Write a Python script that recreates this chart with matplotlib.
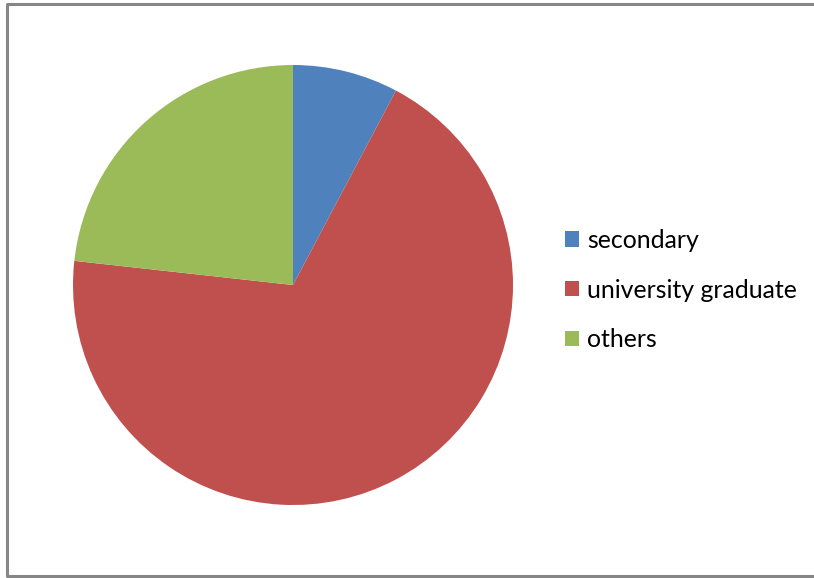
import matplotlib.pyplot as plt
from matplotlib.lines import Line2D

labels = ["secondary", "university graduate", "others"]
shares = [7.75, 69.0, 23.25]
colors = ["#4F81BD", "#C0504D", "#9BBB59"]

plt.rcParams['font.family'] = ['Lato', 'DejaVu Sans']

fig = plt.figure(figsize=(8.14, 5.78), dpi=100)

# frame round the chart area: top, left and bottom only (right side is cut off)
x0, x1 = 6.5 / 814, 1.0
y0, y1 = 1 - 575.5 / 578, 1 - 3.5 / 578
fig.add_artist(Line2D([x1, x0, x0, x1], [y1, y1, y0, y0],
                      transform=fig.transFigure, color="#868686", linewidth=2.2))

cx, cy, r = 293, 285, 220
ax = fig.add_axes([(cx - r) / 814, (578 - cy - r) / 578, 2 * r / 814, 2 * r / 578])
wedges, _ = ax.pie(shares, colors=colors, startangle=90, counterclock=False,
                   radius=1, wedgeprops=dict(linewidth=0))
ax.set_xlim(-1, 1)
ax.set_ylim(-1, 1)
ax.axis("off")

fig.legend(wedges, labels, loc="center left",
           bbox_to_anchor=(565 / 814, 1 - 290 / 578), frameon=False,
           fontsize=17.9, labelspacing=1.08, handlelength=0.58, handleheight=0.58,
           handletextpad=0.3, borderaxespad=0, borderpad=0)

fig.savefig("out.png", dpi=100)
